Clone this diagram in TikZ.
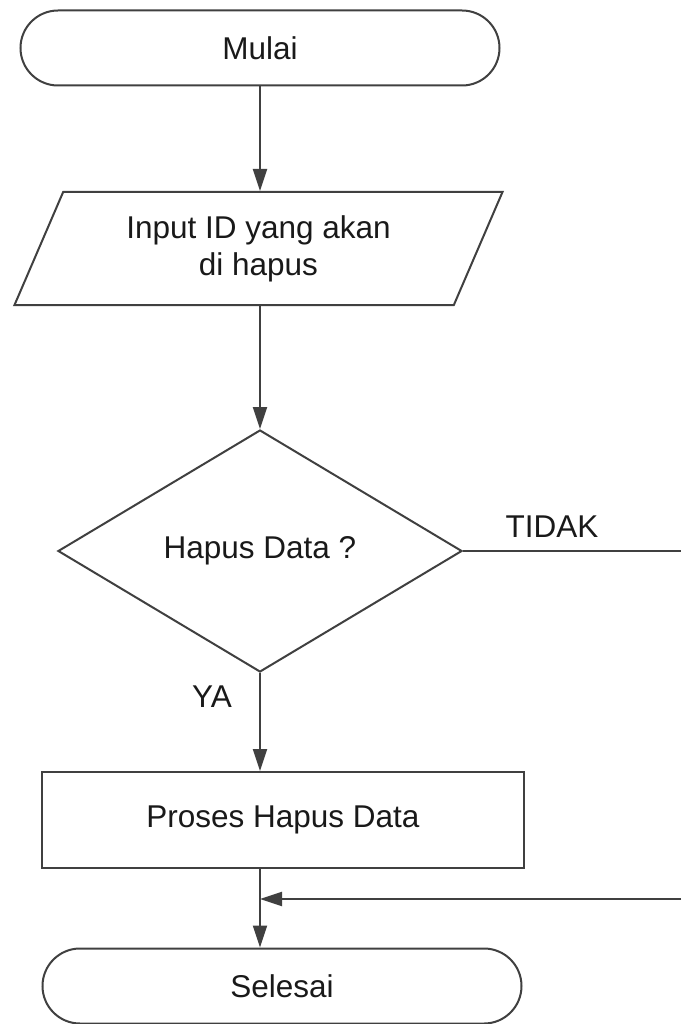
\documentclass[tikz,border=0pt]{standalone}
\usepackage{fontspec}
\setmainfont{Liberation Sans}
\usetikzlibrary{shapes.geometric,shapes.misc,arrows.meta}

\begin{document}
\begin{tikzpicture}[x=1pt,y=-1pt,
  every node/.style={font=\fontsize{31.5}{37}\selectfont, text=black!90},
  outline/.style={draw=black!75, line width=2pt},
  terminal/.style={outline, rounded rectangle, inner sep=0pt,
    minimum width=479pt, minimum height=75pt},
  iobox/.style={outline, trapezium, trapezium stretches=true,
    trapezium left angle=63.6, trapezium right angle=116.4,
    minimum width=489pt, minimum height=113pt, inner sep=0pt, align=center},
  decision/.style={outline, diamond, inner sep=0pt,
    minimum width=404pt, minimum height=242pt},
  process/.style={outline, rectangle, inner sep=0pt,
    minimum width=482pt, minimum height=96pt},
  flow/.style={draw=black!75, line width=2pt,
    -{Triangle[length=22pt,width=14pt]}},
  plain/.style={draw=black!75, line width=2pt}
]
\useasboundingbox (0,0) rectangle (681,1024);

% shapes
\node[terminal] (start) at (260,48) {Mulai};
\node[iobox] (input) at (258.5,248.5) {Input ID yang akan\\di hapus};
\node[decision] (dec) at (260,551) {Hapus Data ?};
\node[process] (proc) at (283,820) {Proses Hapus Data};
\node[terminal] (stop) at (282,986) {Selesai};

% free ends of the TIDAK branch at the right margin
\coordinate (rOut) at (681,551);
\coordinate (rIn) at (681,899);

% connectors
\draw[flow] (start.south) -- (start.south |- input.north);
\draw[flow] (start.south |- input.south) -- (dec.north);
\draw[flow] (dec.south) -- (dec.south |- proc.north);
\draw[plain] (dec.east) -- (rOut);
\draw[flow] (dec.south |- proc.south) -- (dec.south |- stop.north);
\draw[flow] (rIn) -- (dec.south |- rIn);

% branch labels
\node (tidak) at (552,527) {TIDAK};
\node (ya) at (212,697) {YA};
\end{tikzpicture}
\end{document}
